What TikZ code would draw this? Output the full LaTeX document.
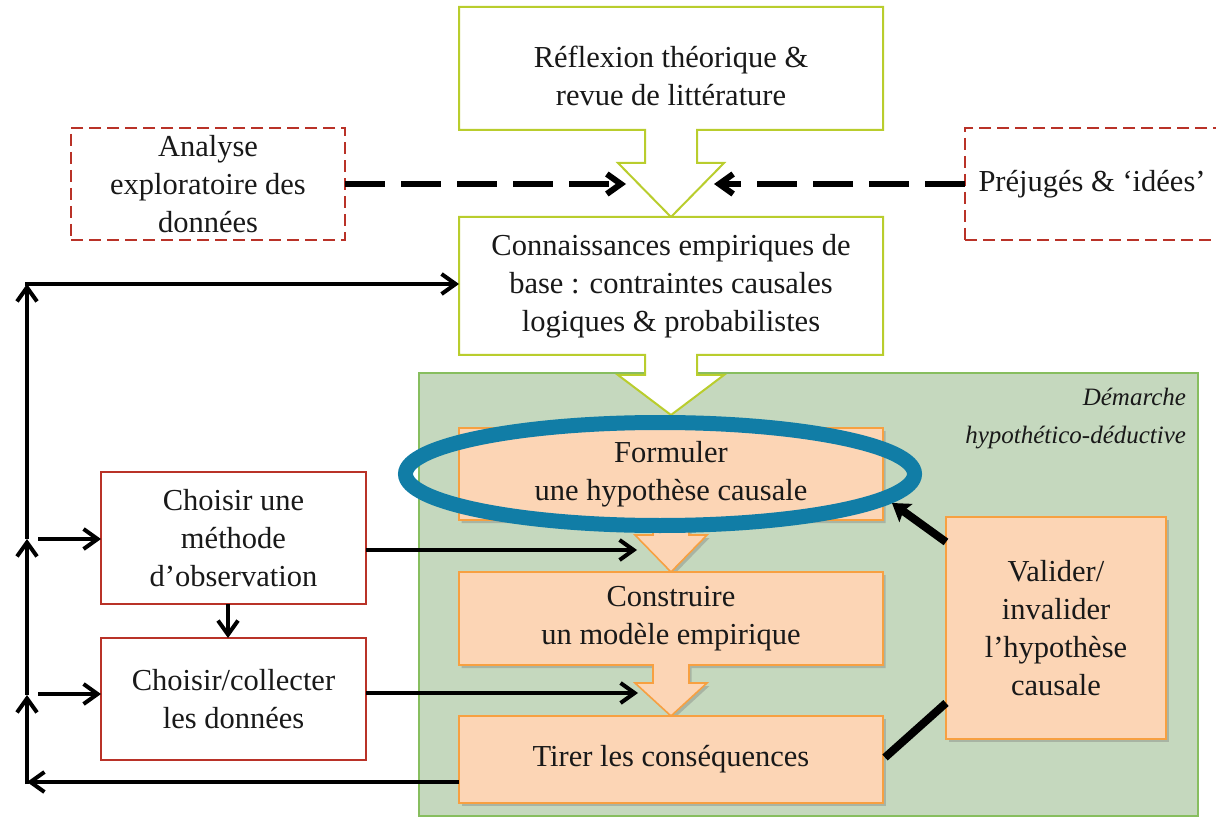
\documentclass[tikz,border=0pt]{standalone}
\usepackage{fontspec}
\setmainfont{Liberation Serif}
\usetikzlibrary{arrows.meta,calc,shadows}
\definecolor{lime}{RGB}{185,205,45}
\definecolor{dred}{RGB}{185,50,40}
\definecolor{bgg}{RGB}{197,216,190}
\definecolor{bgb}{RGB}{135,190,95}
\definecolor{peach}{RGB}{252,213,181}
\definecolor{orng}{RGB}{247,160,65}
\definecolor{ellc}{RGB}{17,125,166}
\definecolor{txtc}{RGB}{25,25,25}
\pgfdeclarelayer{back}
\pgfdeclarelayer{mid}
\pgfsetlayers{back,mid,main}
\tikzset{
  every node/.style={inner sep=0pt, outer sep=0pt, text=txtc, align=center,
    font=\fontsize{30.5}{38}\selectfont},
  limeline/.style={draw=lime, line width=2pt, fill=white, line join=miter},
  redbox/.style={draw=dred, line width=2pt, fill=white},
  dashbox/.style={redbox, dash pattern=on 12pt off 6pt},
  pshadow/.style={drop shadow={shadow xshift=2.5pt, shadow yshift=-3pt, opacity=0.35, fill=black!55}},
  peachline/.style={draw=orng, line width=1.6pt, fill=peach, line join=miter, pshadow},
  arr/.style={draw=black, line width=4pt, -{Straight Barb[length=14pt,width=20pt]}},
  darr/.style={draw=black, line width=6pt, dash pattern=on 40pt off 16pt,
    -{Straight Barb[length=14pt,width=20pt]}},
  bigarr/.style={draw=black, line width=8pt, -{Stealth[length=17pt,width=22pt,inset=3pt]}},
  bigline/.style={draw=black, line width=8pt},
}
\begin{document}
\begin{tikzpicture}[x=1pt,y=-1pt]
\useasboundingbox (0,0) rectangle (1216,818);

% green background of the hypothetico-deductive part
\begin{pgfonlayer}{back}
\node[draw=bgb, line width=1.6pt, fill=bgg, minimum width=779pt, minimum height=443pt] (bg) at (808.5,594.5) {};
\end{pgfonlayer}

% top boxes
\node[minimum width=424pt, minimum height=123pt] (b1) at (671,68.5) {};
\node (b1t) at (671,76) {Réflexion théorique \&\\revue de littérature};
\node[minimum width=424pt, minimum height=138pt] (b2) at (671,286) {Connaissances empiriques de\\base : contraintes causales\\logiques \& probabilistes};

\begin{pgfonlayer}{mid}
\path[limeline] (b1.north west) -- (b1.north east) -- (b1.south east)
  -- ($(b1.south)+(26,0)$) -- ($(b1.south)+(26,33)$) -- ($(b1.south)+(53,33)$)
  -- ($(b1.south)+(0,87)$) -- ($(b1.south)+(-53,33)$) -- ($(b1.south)+(-26,33)$)
  -- ($(b1.south)+(-26,0)$) -- (b1.south west) -- cycle;
\path[limeline] (b2.north west) -- (b2.north east) -- (b2.south east)
  -- ($(b2.south)+(26,0)$) -- ($(b2.south)+(26,20)$) -- ($(b2.south)+(53,20)$)
  -- ($(b2.south)+(0,60)$) -- ($(b2.south)+(-53,20)$) -- ($(b2.south)+(-26,20)$)
  -- ($(b2.south)+(-26,0)$) -- (b2.south west) -- cycle;
\end{pgfonlayer}

% dashed side boxes
\node[dashbox, minimum width=274pt, minimum height=112pt] (anal) at (208,184) {Analyse\\exploratoire des\\données};
\node[dashbox, minimum width=254pt, minimum height=112pt] (prej) at (1092,184) {Préjugés \& ‘idées’};

% orange boxes
\node[minimum width=424pt, minimum height=92pt] (form) at (671,474) {Formuler\\une hypothèse causale};
\node[minimum width=424pt, minimum height=93pt] (cons) at (671,618.5) {Construire\\un modèle empirique};
\begin{pgfonlayer}{mid}
\path[peachline] (form.north west) -- (form.north east) -- (form.south east)
  -- ($(form.south)+(18,0)$) -- ($(form.south)+(18,15)$) -- ($(form.south)+(36,15)$)
  -- ($(form.south)+(0,52)$) -- ($(form.south)+(-36,15)$) -- ($(form.south)+(-18,15)$)
  -- ($(form.south)+(-18,0)$) -- (form.south west) -- cycle;
\path[peachline] (cons.north west) -- (cons.north east) -- (cons.south east)
  -- ($(cons.south)+(18,0)$) -- ($(cons.south)+(18,18)$) -- ($(cons.south)+(36,18)$)
  -- ($(cons.south)+(0,51)$) -- ($(cons.south)+(-36,18)$) -- ($(cons.south)+(-18,18)$)
  -- ($(cons.south)+(-18,0)$) -- (cons.south west) -- cycle;
\end{pgfonlayer}
\node[draw=orng, line width=1.6pt, fill=peach, pshadow, minimum width=424pt, minimum height=87pt] (tire) at (671,759.5) {Tirer les conséquences};
\node[draw=orng, line width=1.6pt, fill=peach, pshadow, minimum width=220pt, minimum height=222pt] (vali) at (1056,628) {Valider/\\invalider\\l’hypothèse\\causale};

\node[anchor=east, align=right, font=\itshape\fontsize{25}{38}\selectfont] (dem) at (1186,419) {Démarche\\hypothético-déductive};

% red boxes on the left
\node[redbox, minimum width=265pt, minimum height=132pt] (meth) at (233.5,538) {Choisir une\\méthode\\d’observation};
\node[redbox, minimum width=265pt, minimum height=122pt] (coll) at (233.5,699) {Choisir/collecter\\les données};

% highlight ellipse
\draw[ellc, line width=15pt] (660,474) ellipse [x radius=254.5, y radius=51.5];

% connectors
\coordinate (tipL) at (626,184);
\coordinate (tipR) at (714,184);
\draw[darr] (anal.east) -- (tipL);
\draw[darr] (prej.west) -- (tipR);

\coordinate (mtip) at (637,550);
\coordinate (ctip) at (638,693);
\draw[arr] (meth.east |- mtip) -- (mtip);
\draw[arr] (coll.east |- ctip) -- (ctip);
\draw[arr] ([xshift=-5.5pt]meth.south) -- ([xshift=-5.5pt]coll.north);

\coordinate (lb) at (27,782);
\coordinate (l1) at (27,695);
\coordinate (l2) at (27,539);
\coordinate (lt) at (27,284);
\draw[arr] (tire.west |- lb) -- (lb);
\draw[arr] ($(lb)+(0,2)$) -- (l1);
\draw[arr] (l1) -- (l2);
\draw[arr] (l2) -- (lt);
\draw[arr] ($(lt)+(-2,0)$) -- (b2.west |- lt);
\draw[arr] ($(l2)+(11,0)$) -- (meth.west |- l2);
\draw[arr] ($(l1)+(11,-1)$) -- ($(coll.west |- l1)+(0,-1)$);

\coordinate (vtip) at (892,503);
\draw[bigarr] ($(vali.north west)+(0,25)$) -- (vtip);
\draw[bigline] ($(tire.east)+(2,-2)$) -- ($(vali.south west)+(0,-36)$);
\end{tikzpicture}
\end{document}
